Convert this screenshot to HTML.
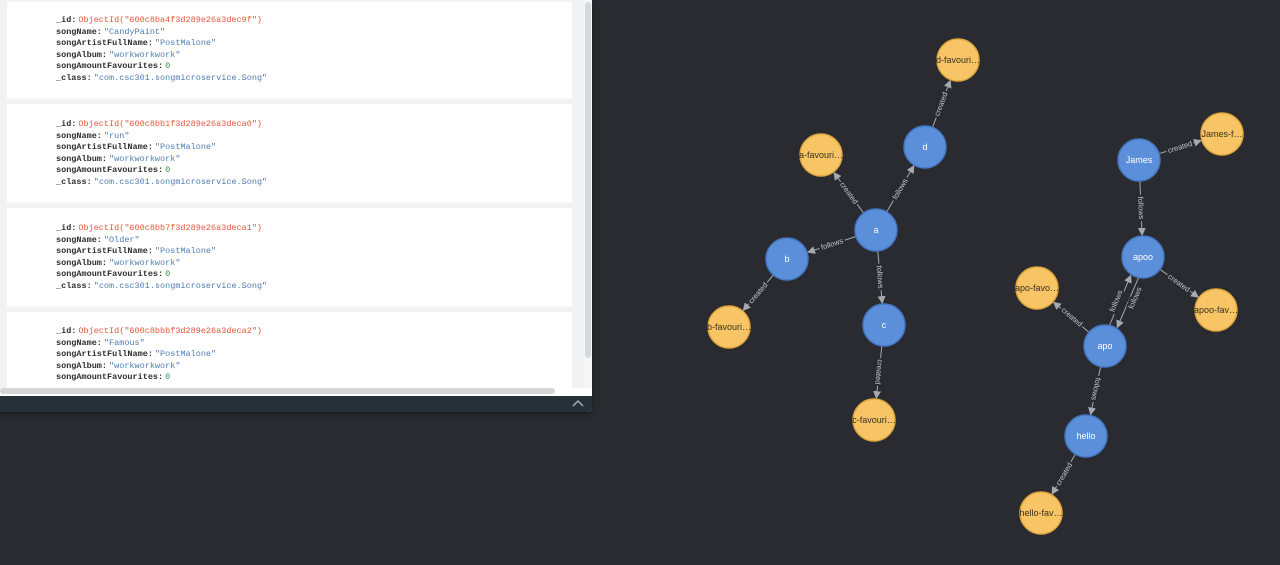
<!DOCTYPE html>
<html><head><meta charset="utf-8"><style>
html,body{margin:0;padding:0;width:1280px;height:565px;overflow:hidden;background:#292b30;font-family:"Liberation Sans",sans-serif}
#panel{position:absolute;left:0;top:0;width:592px;height:412px;background:#f1f2f3;overflow:hidden;border-radius:0 0 4px 0;box-shadow:0 2px 6px rgba(0,0,0,0.4)}
.card{position:absolute;left:7px;width:565px;background:#fff}
.doc{position:absolute;left:56px;font-family:"Liberation Mono",monospace;font-size:8.5px;line-height:11.5px;white-space:pre}
.k{color:#2d2d2d;font-weight:bold;margin-right:2px}.r{color:#e4563a}.b{color:#4d7db3}.g{color:#3b8a48}
#bar{position:absolute;left:0;top:396px;width:592px;height:16px;background:#263039}
</style></head><body>
<div id="panel">
<div class="card" style="top:2px;height:97px"></div>
<div class="card" style="top:104px;height:99px"></div>
<div class="card" style="top:208px;height:99px"></div>
<div class="card" style="top:312px;height:80px"></div>
<div class="doc" style="top:15px"><span class="k">_id:</span><span class="r">ObjectId("600c8ba4f3d289e26a3dec9f")</span>
<span class="k">songName:</span><span class="b">"CandyPaint"</span>
<span class="k">songArtistFullName:</span><span class="b">"PostMalone"</span>
<span class="k">songAlbum:</span><span class="b">"workworkwork"</span>
<span class="k">songAmountFavourites:</span><span class="g">0</span>
<span class="k">_class:</span><span class="b">"com.csc301.songmicroservice.Song"</span></div>
<div class="doc" style="top:119px"><span class="k">_id:</span><span class="r">ObjectId("600c8bb1f3d289e26a3deca0")</span>
<span class="k">songName:</span><span class="b">"run"</span>
<span class="k">songArtistFullName:</span><span class="b">"PostMalone"</span>
<span class="k">songAlbum:</span><span class="b">"workworkwork"</span>
<span class="k">songAmountFavourites:</span><span class="g">0</span>
<span class="k">_class:</span><span class="b">"com.csc301.songmicroservice.Song"</span></div>
<div class="doc" style="top:223px"><span class="k">_id:</span><span class="r">ObjectId("600c8bb7f3d289e26a3deca1")</span>
<span class="k">songName:</span><span class="b">"Older"</span>
<span class="k">songArtistFullName:</span><span class="b">"PostMalone"</span>
<span class="k">songAlbum:</span><span class="b">"workworkwork"</span>
<span class="k">songAmountFavourites:</span><span class="g">0</span>
<span class="k">_class:</span><span class="b">"com.csc301.songmicroservice.Song"</span></div>
<div class="doc" style="top:326px;height:62px;overflow:hidden"><span class="k">_id:</span><span class="r">ObjectId("600c8bbbf3d289e26a3deca2")</span>
<span class="k">songName:</span><span class="b">"Famous"</span>
<span class="k">songArtistFullName:</span><span class="b">"PostMalone"</span>
<span class="k">songAlbum:</span><span class="b">"workworkwork"</span>
<span class="k">songAmountFavourites:</span><span class="g">0</span></div>
<div style="position:absolute;left:0;top:388px;width:592px;height:8px;background:#fff"></div>
<div style="position:absolute;left:0;top:388px;width:555px;height:6px;background:#d4d5d7;border-radius:3px"></div>
<div style="position:absolute;left:584px;top:0;width:8px;height:388px;background:#f6f6f6"></div>
<div style="position:absolute;left:585px;top:2px;width:6px;height:356px;background:#d7d8da;border-radius:3px"></div>
<div id="bar"><svg width="592" height="16"><polyline points="573,10 578,5 583,10" fill="none" stroke="#aab" stroke-width="1.5"/></svg></div>
</div>
<svg width="1280" height="565" style="position:absolute;left:0;top:0">
<defs><marker id="ar" markerWidth="8" markerHeight="8" refX="7" refY="4" orient="auto" markerUnits="userSpaceOnUse"><path d="M0,0 L8,4 L0,8 z" fill="#a5a9b0"/></marker></defs>
<g stroke="#a5a9b0" stroke-width="1" marker-end="url(#ar)">
<line x1="863.6" y1="213.1" x2="834" y2="172.7"/>
<line x1="886.7" y1="211.9" x2="913.8" y2="165.9"/>
<line x1="932.5" y1="127.4" x2="950.2" y2="80.6"/>
<line x1="856" y1="236.5" x2="808" y2="252.2"/>
<line x1="773.4" y1="275" x2="743.3" y2="310.3"/>
<line x1="877.8" y1="250.9" x2="882.2" y2="303.1"/>
<line x1="881.8" y1="345.9" x2="876.3" y2="398.1"/>
<line x1="1159" y1="153.7" x2="1201" y2="140.6"/>
<line x1="1139.9" y1="181" x2="1142.1" y2="235"/>
<line x1="1160" y1="269.3" x2="1198.2" y2="297.1"/>
<line x1="1138.4" y1="277.9" x2="1117.3" y2="327.4"/>
<line x1="1109.6" y1="325.1" x2="1130.7" y2="275.6"/>
<line x1="1089" y1="332.4" x2="1053.7" y2="302.3"/>
<line x1="1100.7" y1="366.5" x2="1090.6" y2="414.5"/>
<line x1="1075.4" y1="454.1" x2="1052.1" y2="494"/>
</g>
<g font-size="7.5" fill="#c4c7cc" text-anchor="middle" stroke="#292b30" stroke-width="4" paint-order="stroke" font-family="Liberation Sans,sans-serif">
<text transform="translate(849,193) rotate(53.7)" dy="2.5">created</text>
<text transform="translate(900,189) rotate(-59.4)" dy="2.5">follows</text>
<text transform="translate(941,104) rotate(-69.2)" dy="2.5">created</text>
<text transform="translate(832,244) rotate(-18)" dy="2.5">follows</text>
<text transform="translate(758,293) rotate(-49.5)" dy="2.5">created</text>
<text transform="translate(880,277) rotate(85.2)" dy="2.5">follows</text>
<text transform="translate(879,372) rotate(96)" dy="2.5">created</text>
<text transform="translate(1180,147) rotate(-17.4)" dy="2.5">created</text>
<text transform="translate(1141,208) rotate(87.6)" dy="2.5">follows</text>
<text transform="translate(1179,283) rotate(36)" dy="2.5">created</text>
<text transform="translate(1135,298) rotate(-67)" dy="2.5">follows</text>
<text transform="translate(1116,301) rotate(-67)" dy="2.5">follows</text>
<text transform="translate(1072,317) rotate(40.5)" dy="2.5">created</text>
<text transform="translate(1096,389) rotate(101.9)" dy="2.5">follows</text>
<text transform="translate(1064,474) rotate(-59.7)" dy="2.5">created</text>
</g>
<g stroke-width="1.5" font-size="9" text-anchor="middle" font-family="Liberation Sans,sans-serif">
<g fill="#5b8fd9" stroke="#4677c3">
<circle cx="925" cy="147" r="21"/><circle cx="876" cy="230" r="21"/><circle cx="787" cy="259" r="21"/><circle cx="884" cy="325" r="21"/>
<circle cx="1139" cy="160" r="21"/><circle cx="1143" cy="257" r="21"/><circle cx="1105" cy="346" r="21"/><circle cx="1086" cy="436" r="21"/>
</g>
<g fill="#f7c566" stroke="#e2a83e">
<circle cx="958" cy="60" r="21"/><circle cx="821" cy="155" r="21"/><circle cx="729" cy="327" r="21"/><circle cx="874" cy="420" r="21"/>
<circle cx="1222" cy="134" r="21"/><circle cx="1216" cy="310" r="21"/><circle cx="1037" cy="288" r="21"/><circle cx="1041" cy="513" r="21"/>
</g>
<g fill="#fff">
<text x="925" y="150">d</text><text x="876" y="233">a</text><text x="787" y="262">b</text><text x="884" y="328">c</text>
<text x="1139" y="163">James</text><text x="1143" y="260">apoo</text><text x="1105" y="349">apo</text><text x="1086" y="439">hello</text>
</g>
<g fill="#3a3020">
<text x="958" y="63">d-favouri…</text><text x="821" y="158">a-favouri…</text><text x="729" y="330">b-favouri…</text><text x="874" y="423">c-favouri…</text>
<text x="1222" y="137">James-f…</text><text x="1216" y="313">apoo-fav…</text><text x="1037" y="291">apo-favo…</text><text x="1041" y="516">hello-fav…</text>
</g>
</g>
</svg>
</body></html>
